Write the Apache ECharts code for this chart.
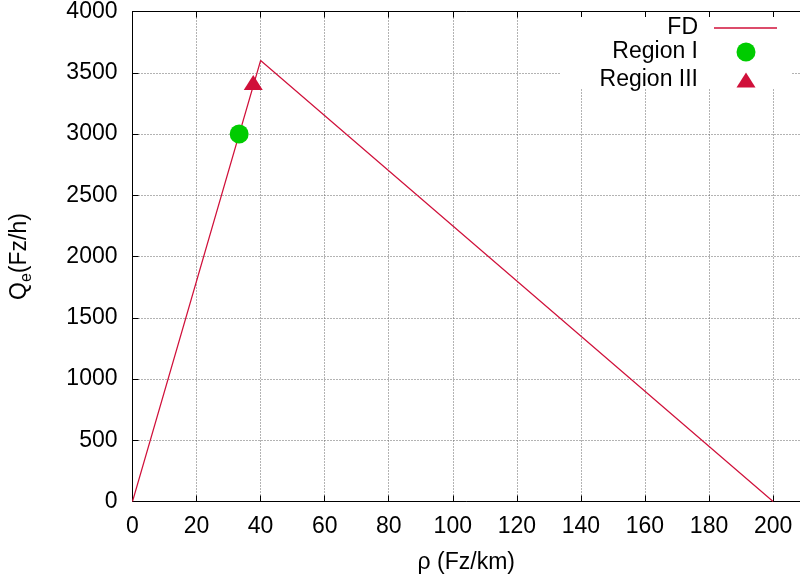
<!DOCTYPE html>
<html>
<head>
<meta charset="utf-8">
<script src="https://cdn.jsdelivr.net/npm/echarts@6/dist/echarts.min.js"></script>
<style>html,body{margin:0;padding:0;background:#fff}#c{width:800px;height:580px}</style>
</head>
<body>
<div id="c"></div>
<script>
// Data
var fdRho = [0, 40, 200];
var fdQ = [0, 3600, 0];
var region1Rho = [33.3];
var region1Q = [3000];
var region3Rho = [37.7];
var region3Q = [3420];
var xTitle = 'ρ (Fz/km)';
var yTitle = 'Q{sub|e}(Fz/h)';
var seriesNames = ['FD', 'Region I', 'Region III'];

function pairs(xs, ys) { return xs.map(function (x, i) { return [x, ys[i]]; }); }

var FONT = '"Liberation Sans", Arial, sans-serif';
var FS = 23;
var RED = '#d0103a';
var GREEN = '#00cc00';
var X_MAX = 208.4;
var gridLine = { show: true, showMaxLine: false, lineStyle: { color: '#666', width: 1, type: [1, 2] } };

var chart = echarts.init(document.getElementById('c'), null, { renderer: 'canvas' });
chart.setOption({
  animation: false,
  backgroundColor: '#fff',
  textStyle: { fontFamily: FONT },
  grid: { left: 131.5, right: 0, top: 8.5, bottom: 78.5, containLabel: false },
  xAxis: [{
    type: 'value', min: 0, max: X_MAX, interval: 20, position: 'bottom',
    name: xTitle, nameLocation: 'middle', nameGap: 50,
    nameTextStyle: { fontSize: FS, color: '#000', fontFamily: FONT },
    axisLine: { show: true, onZero: false, lineStyle: { color: '#000', width: 1 } },
    axisTick: { show: true, inside: true, length: 6, lineStyle: { color: '#000' } },
    axisLabel: { fontSize: FS, color: '#000', margin: 14, showMaxLabel: false, fontFamily: FONT,
      formatter: function (v) { return String(v); } },
    splitLine: gridLine
  }, {
    type: 'value', min: 0, max: X_MAX, interval: 20, position: 'top',
    axisLine: { show: true, onZero: false, lineStyle: { color: '#000', width: 1 } },
    axisTick: { show: true, inside: true, length: 6, lineStyle: { color: '#000' } },
    axisLabel: { show: false },
    splitLine: { show: false }
  }],
  yAxis: {
    type: 'value', min: 0, max: 4000, interval: 500,
    name: yTitle, nameLocation: 'middle', nameGap: 98, nameRotate: 90,
    nameTextStyle: {
      fontSize: FS, color: '#000', fontFamily: FONT,
      rich: { sub: { fontSize: 16, color: '#000', fontFamily: FONT, padding: [14, 0, 0, 0] } }
    },
    axisLine: { show: true, onZero: false, lineStyle: { color: '#000', width: 1 } },
    axisTick: { show: true, inside: true, length: 6, lineStyle: { color: '#000' } },
    axisLabel: { fontSize: FS, color: '#000', margin: 15, fontFamily: FONT,
      formatter: function (v) { return String(v); } },
    splitLine: { show: true, lineStyle: { color: '#666', width: 1, type: [1, 2] } }
  },
  graphic: [{
    type: 'rect', z: 1,
    shape: { x: 560, y: 17, width: 232, height: 71 },
    style: { fill: '#fff' }
  }],
  legend: [{
    data: [{ name: seriesNames[0], icon: 'rect', itemStyle: { color: RED } }],
    orient: 'vertical', align: 'right',
    right: 23, top: 16.5, padding: 0, itemWidth: 63, itemHeight: 1.5,
    textStyle: { fontSize: FS, color: '#000', fontFamily: FONT, padding: [0, 11, 0, 0] }
  }, {
    data: [seriesNames[1]], orient: 'vertical', align: 'right',
    right: 44.5, top: 40.5, padding: 0, itemWidth: 19, itemHeight: 19,
    textStyle: { fontSize: FS, color: '#000', fontFamily: FONT, padding: [0, 33.5, 0, 0] }
  }, {
    data: [seriesNames[2]], orient: 'vertical', align: 'right',
    right: 44.5, top: 68.5, padding: 0, itemWidth: 19, itemHeight: 15,
    textStyle: { fontSize: FS, color: '#000', fontFamily: FONT, padding: [0, 33.5, 0, 0] }
  }],
  series: [{
    name: seriesNames[0], type: 'line', data: pairs(fdRho, fdQ),
    symbol: 'none', showSymbol: false, lineStyle: { color: RED, width: 1.2 }, itemStyle: { color: RED }, z: 2
  }, {
    name: seriesNames[1], type: 'scatter', data: pairs(region1Rho, region1Q),
    symbol: 'circle', symbolSize: 19, itemStyle: { color: GREEN, opacity: 1 }, z: 3
  }, {
    name: seriesNames[2], type: 'scatter', data: pairs(region3Rho, region3Q),
    symbol: 'triangle', symbolSize: [19, 15], itemStyle: { color: RED, opacity: 1 }, z: 3
  }]
});
</script>
</body>
</html>
